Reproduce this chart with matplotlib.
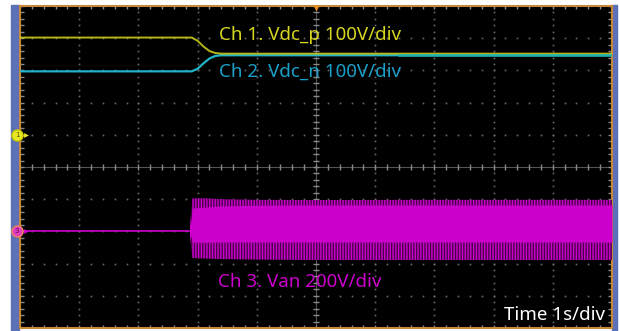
import matplotlib
matplotlib.use("Agg")
import matplotlib.pyplot as plt
from matplotlib.patches import Rectangle
import numpy as np

# ---- data (time in s, voltages in V) ----
ch1_t = [-5.0, -2.1, -2.0, -1.9, -1.8, -1.7, -1.6, 1.4, 5.0]
ch1_v = [300, 300, 290, 272, 258, 252, 250, 250, 250]
ch2_t = [-5.0, -2.1, -2.0, -1.9, -1.8, -1.7, -1.6, 1.4, 5.0]
ch2_v = [200, 200, 208, 225, 240, 248, 250, 250, 250]
ch3_base_t = [-5.0, -2.12]
ch3_base_v = [0, 0]
ch3_t = [-2.13, -2.09, -1.9, -1.6, -1.0, 0.0, 2.0, 4.0, 5.0]
ch3_outer_top = [20, 205, 206, 200, 196, 195, 196, 196, 196]
ch3_inner_top = [10, 145, 150, 158, 162, 164, 164, 164, 164]
ch3_inner_bot = [-10, -66, -68, -66, -66, -66, -66, -66, -66]
ch3_outer_bot = [-20, -165, -168, -172, -175, -178, -178, -178, -178]

ch_scale = {"ch1": 100, "ch2": 100, "ch3": 200}   # V/div
ch_ground = {"ch1": 1.0, "ch2": 1.0, "ch3": -2.0}  # div
labels = ["Ch 1. Vdc_p 100V/div", "Ch 2. Vdc_n 100V/div", "Ch 3. Van 200V/div"]
time_label = "Time 1s/div"

def to_div(v, ch):
    return np.asarray(v, float) / ch_scale[ch] + ch_ground[ch]

W, H = 619, 331
fig = plt.figure(figsize=(W / 100, H / 100), dpi=100)
fig.patch.set_facecolor("white")
blue = "#5b70b6"
fig.patches.append(Rectangle((11 / W, 0), 8 / W, 326 / H, transform=fig.transFigure,
                             color=blue, zorder=-1))
fig.patches.append(Rectangle((612 / W, 0), 5 / W, 326 / H, transform=fig.transFigure,
                             color=blue, zorder=-1))

ax = fig.add_axes([20 / W, 3 / H, 592 / W, 322 / H])
ax.set_facecolor("black")
ax.set_xlim(-5, 5)
ax.set_ylim(-5, 5)
ax.set_xticks([])
ax.set_yticks([])
for s in ax.spines.values():
    s.set_color("#c8883a")
    s.set_linewidth(1.5)

# ---- graticule ----
dot_c = "#6a6a6a"
minor_y = np.arange(-5, 5.001, 0.2)
minor_x = np.arange(-5, 5.001, 0.2)
for gx in range(-4, 5):
    if gx == 0:
        continue
    ax.plot(np.full_like(minor_y, gx), minor_y, ls="none", marker="s", ms=1.2,
            mec="none", mfc=dot_c, zorder=1)
for gy in range(-4, 5):
    if gy == 0:
        continue
    ax.plot(minor_x, np.full_like(minor_x, gy), ls="none", marker="s", ms=1.2,
            mec="none", mfc=dot_c, zorder=1)
ax.axhline(0, color="#555555", lw=0.8, zorder=1)
ax.axvline(0, color="#555555", lw=0.8, zorder=1)
ax.plot(minor_x, np.zeros_like(minor_x), ls="none", marker="|", ms=4, mew=1.0,
        color="#8a8a8a", zorder=1)
ax.plot(np.zeros_like(minor_y), minor_y, ls="none", marker="_", ms=5, mew=1.0,
        color="#8a8a8a", zorder=1)
ax.plot(minor_x, np.full_like(minor_x, 5), ls="none", marker="|", ms=5, mew=1.0,
        color="#8a8a8a", zorder=1)
ax.plot(minor_x, np.full_like(minor_x, -5), ls="none", marker="|", ms=5, mew=1.0,
        color="#8a8a8a", zorder=1)
ax.plot(np.full_like(minor_y, -5), minor_y, ls="none", marker="_", ms=6, mew=1.0,
        color="#8a8a8a", zorder=1)
ax.plot(np.full_like(minor_y, 5), minor_y, ls="none", marker="_", ms=6, mew=1.0,
        color="#8a8a8a", zorder=1)

# ---- traces ----
yellow = "#d6d61e"
cyan = "#1fb4c8"
mag = "#cc00cc"
y1 = to_div(ch1_v, "ch1") + 0.02
y2 = to_div(ch2_v, "ch2") - 0.03
ax.plot(ch2_t, y2, color=cyan, lw=1.6, zorder=3)
ax.plot(ch1_t, y1, color=yellow, lw=1.4, zorder=4, alpha=0.85)
ax.plot(ch2_t[-2:], y2[-2:] + 0.02, color="#20b0b0", lw=1.8, zorder=5)

ax.plot(ch3_base_t, to_div(ch3_base_v, "ch3"), color=mag, lw=1.2, zorder=3)
t3 = np.asarray(ch3_t)
ax.fill_between(t3, to_div(ch3_outer_bot, "ch3"), to_div(ch3_outer_top, "ch3"),
                facecolor="#4a004a", edgecolor=mag, hatch="||||||", lw=0, zorder=3)
ax.fill_between(t3, to_div(ch3_inner_bot, "ch3"), to_div(ch3_inner_top, "ch3"),
                color=mag, lw=0, zorder=4)

# ---- labels ----
font = ["Noto Sans", "DejaVu Sans"]
fs = 13.5
ax.text(-1.64, 4.1, labels[0], color=yellow, fontsize=fs, family=font,
        va="center", ha="left", zorder=6)
ax.text(-1.64, 2.95, labels[1], color="#1aa0c8", fontsize=fs, family=font,
        va="center", ha="left", zorder=6)
ax.text(-1.66, -3.57, labels[2], color=mag, fontsize=fs, family=font,
        va="center", ha="left", zorder=6)
ax.text(4.88, -4.6, time_label, color="white", fontsize=fs, family=font,
        va="center", ha="right", zorder=6)

# trigger marker
ax.plot([0], [4.93], marker="v", ms=5, color="#e8901e", mec="none", zorder=7, clip_on=False)

# channel ground markers
g1 = to_div(0, "ch1")
g3 = to_div(0, "ch3")
ax.plot([-5.05], [g1], marker="o", ms=8, mfc="#e8e820", mec="#c8c800",
        zorder=8, clip_on=False)
ax.text(-5.05, g1, "1", fontsize=5, ha="center", va="center",
        color="#555500", zorder=9, clip_on=False)
ax.plot([-4.9], [g1], marker=">", ms=3.5, color="#e8e820", mec="none",
        zorder=8, clip_on=False)
ax.plot([-5.05], [g3], marker="o", ms=8, mfc="#e040c0", mec="#f08060",
        mew=1.0, zorder=8, clip_on=False)
ax.text(-5.05, g3, "3", fontsize=5, ha="center", va="center",
        color="#600050", zorder=9, clip_on=False)
ax.plot([-4.9], [g3], marker=">", ms=3.5, color=mag, mec="none",
        zorder=8, clip_on=False)

fig.savefig("out.png", dpi=100, facecolor="white")
